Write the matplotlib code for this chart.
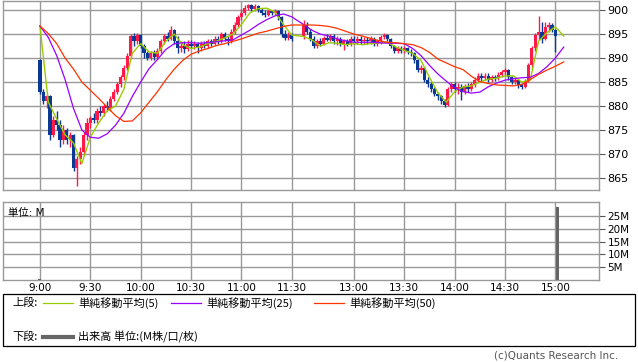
import numpy as np
import matplotlib
matplotlib.use("Agg")
import matplotlib.pyplot as plt
from matplotlib.lines import Line2D
from matplotlib.patches import Rectangle

plt.rcParams['font.family'] = ['DejaVu Sans', 'Noto Sans CJK JP']

# 2-minute candles, morning 9:00-11:30 and afternoon 12:30-15:00
am_open = [889.5, 883, 881, 882, 874, 877, 876, 873, 875, 873, 874, 867, 869, 870.5, 874, 876.5,
           877.5, 877, 879, 878.5, 880, 879.5, 881.5, 883, 884.5, 886, 888, 890.5, 894.5, 893.5,
           894.8, 892.5, 891, 890, 891, 890.2, 891.5, 893.5, 894.5, 894, 895.8, 893.5, 892, 892.5,
           891.8, 893, 892.5, 893, 892, 893, 892.5, 893.5, 893, 894, 893.5, 895, 894, 893.5, 895.5,
           897, 898.5, 899.5, 900.5, 901, 900.3, 900.8, 900, 899.5, 899, 899.8, 899.3, 899.8, 898.5,
           895, 894.2, 894.8]
am_high = [889.8, 883.5, 882.5, 882.3, 878, 879, 877, 876, 875.5, 874.5, 874.2, 869.5, 871.5, 874.5,
           877.5, 878, 878.5, 879.5, 880, 880.5, 881, 882, 883.5, 885, 886.5, 888.5, 891, 895, 895.2,
           895.2, 895, 893, 891.5, 891.5, 891.7, 892, 894, 895, 895.5, 896.7, 896, 894.5, 893.5, 893.5,
           893.7, 893.7, 893.5, 893.3, 893.5, 893.5, 894, 894, 894.5, 894.5, 895.4, 895.4, 894.5, 896,
           897.5, 899, 900.2, 901, 901.3, 901.3, 901.2, 901, 900.4, 900, 900.2, 900, 900.2, 900, 898.7,
           895.8, 895.5, 895.3]
am_low = [882.5, 880.5, 879.5, 873, 873.5, 875, 871.5, 872, 872, 871.5, 866.5, 863.3, 868, 870, 873,
          875.5, 876.5, 876.5, 878, 878, 879, 879, 881, 882.5, 884, 885.5, 887.5, 890, 892.5, 893, 892,
          890, 889.5, 889.5, 889.6, 889.8, 891, 893, 893.5, 893.8, 893, 891, 891.2, 891, 891.5, 892,
          891.8, 891, 891.5, 892, 892.2, 892.5, 892.8, 893, 893.2, 893.5, 892.8, 893.2, 895, 896.5, 898,
          899, 900, 899.8, 899.8, 899.6, 899, 898.5, 898.8, 899, 899, 898, 894.4, 893.7, 893.8, 893.5]
am_close = [883, 881, 882, 874, 877, 876, 873, 875, 873, 874, 867, 869, 870.5, 874, 876.5, 877.5,
            877, 879, 878.5, 880, 879.5, 881.5, 883, 884.5, 886, 888, 890.5, 894.5, 893.5, 894.8,
            892.5, 891, 890, 891, 890.2, 891.5, 893.5, 894.5, 894, 895.8, 893.5, 892, 892.5, 891.8,
            893, 892.5, 893, 892, 893, 892.5, 893.5, 893, 894, 893.5, 895, 894, 893.5, 895.5, 897,
            898.5, 899.5, 900.5, 901, 900.3, 900.8, 900, 899.5, 899, 899.8, 899.3, 899.8, 898.5, 895,
            894.2, 894.8, 894]

pm_open = [894.5, 897, 895.5, 894, 892.5, 893.5, 893, 894.2, 893.8, 894.5, 893.5, 894, 893, 893.5,
           893, 894, 893.5, 894, 893.5, 893.8, 893.5, 894, 893, 893.5, 894.3, 894.8, 894, 892.5, 891.5,
           892, 891.5, 892, 891.3, 891, 889.5, 887.5, 888, 885.5, 884.5, 883.5, 882.5, 882, 881, 880.3,
           883.5, 884.5, 883.5, 884, 883, 884, 883.5, 884.5, 885.5, 886.3, 885.8, 886.3, 885.5, 886,
           885.8, 886.5, 887, 887.5, 886, 885, 885.5, 884.3, 884, 885.2, 888.5, 892, 894.8, 895.5, 894,
           896.5, 897, 895.8]
pm_high = [897.9, 897.5, 896, 894.5, 894, 894.2, 894.6, 895, 895, 895, 894.5, 894.4, 894, 894, 894.5,
           894.5, 894.5, 894.5, 894.3, 894.3, 894.5, 894.3, 894, 894.8, 895.2, 895, 894.2, 892.8, 892.5,
           892.5, 892.5, 892.3, 891.8, 891.2, 889.8, 888.5, 888.2, 886, 885, 884, 883, 882.3, 881.5, 884,
           885, 885, 884.8, 884.5, 884.5, 884.8, 885, 886, 886.8, 886.8, 886.8, 886.8, 886.5, 886.5, 887,
           887.5, 888, 887.8, 886.3, 886, 885.7, 884.8, 885.7, 889, 892.5, 895.2, 898.7, 897.5, 897.5,
           897.5, 897.3, 896]
pm_low = [894, 895, 893.5, 892, 892.2, 892.5, 892.8, 893.5, 893.5, 893, 892.8, 892.5, 891.7, 892.5,
          892.5, 893, 893, 893, 893, 893, 893, 892.5, 892.5, 893, 894, 893.5, 892, 891, 891, 891, 891,
          890.8, 890.5, 889, 887, 886.8, 885, 884, 883, 882, 881.3, 880.5, 879.8, 880, 883, 883, 882.5,
          881.3, 882.5, 883, 883.2, 884, 885, 885.3, 885.5, 885, 885, 885.3, 885.5, 886, 886.5, 885.5,
          884.5, 884.5, 883.7, 883.5, 883.7, 885, 888, 891.5, 893.7, 893.1, 893.8, 895.5, 895.4, 891.2]
pm_close = [897, 895.5, 894, 892.5, 893.5, 893, 894.2, 893.8, 894.5, 893.5, 894, 893, 893.5, 893, 894,
            893.5, 894, 893.5, 893.8, 893.5, 894, 893, 893.5, 894.3, 894.8, 894, 892.5, 891.5, 892,
            891.5, 892, 891.3, 891, 889.5, 887.5, 888, 885.5, 884.5, 883.5, 882.5, 882, 881, 880.3,
            883.5, 884.5, 883.5, 884, 883, 884, 883.5, 884.5, 885.5, 886.3, 885.8, 886.3, 885.5, 886,
            885.8, 886.5, 887, 887.5, 886, 885, 885.5, 884.3, 884, 885.2, 888.5, 892, 894.8, 895.5, 894,
            896.5, 897, 895.8, 894.5]

# moving averages read every 5 minutes
ma5_am = [896.7, 880.8, 877.3, 874, 872.3, 868, 873.5, 876.5, 879, 880, 883.5, 891, 893, 891.3, 891,
          893.5, 895, 892.8, 892, 892.3, 893, 893.5, 894.2, 895, 897, 899.4, 900.3, 900.4, 899.6, 897,
          894.8]
ma5_pm = [894.5, 893.8, 892.5, 893.2, 893.1, 892.8, 893, 892.8, 893, 893.2, 893.3, 892.3, 891.6, 891,
          889.5, 886, 882.8, 880.8, 883, 884, 884.2, 885, 885.6, 885.8, 886.3, 886.3, 885, 885.4, 893.5,
          895.3, 896.5, 894.6]
ma25_am = [896.7, 894.3, 890.5, 885.5, 879.5, 875, 873.5, 873.3, 874.2, 876, 878.5, 882, 885, 887.8,
           889.7, 891.8, 893, 893.2, 893.2, 893.1, 893.2, 893.4, 893.6, 893.8, 894.8, 895.8, 897, 898,
           898.8, 899.2, 898.6]
ma25_pm = [897, 895.8, 895, 894.6, 894, 893.6, 893.3, 893.3, 893.3, 893.2, 893.1, 893.1, 893, 892,
           890.5, 888.5, 886.7, 885.2, 883.8, 883, 882.7, 882.9, 884, 884.8, 885.4, 885.7, 885.9, 886,
           886.8, 888.2, 890, 892.3]
ma50_am = [896.7, 895.1, 893, 890, 887.7, 885, 883.3, 881.6, 879.8, 878, 876.8, 876.9, 878.6, 880.8,
           883, 885.5, 887.7, 889.5, 890.8, 891.5, 892, 892.6, 893, 893.5, 894, 894.6, 895.2, 895.6,
           896.1, 896.6, 896.9]
ma50_pm = [896.9, 896.9, 896.8, 896.6, 896.2, 895.6, 895, 894.6, 894.1, 893.6, 893.3, 893.2, 893,
           892.8, 892.2, 891.2, 889.8, 889, 888.2, 887.6, 886.2, 885.1, 884.7, 884.4, 884.3, 884.2,
           884.5, 885.5, 886.6, 887.5, 888.3, 889.2]

vol_times = ['9:00', '15:01']
vol_values = [0.4, 28.5]

tick_labels = ['9:00', '9:30', '10:00', '10:30', '11:00', '11:30',
               '13:00', '13:30', '14:00', '14:30', '15:00']

UP = '#ff1a4a'
DOWN = '#0a3894'
GRID = '#999999'


def xpos(hhmm):
    h, m = map(int, hhmm.split(':'))
    mins = h * 60 + m
    if mins <= 12 * 60:
        return mins - 9 * 60
    return mins - (12 * 60 + 30) + 157


def fx(px):
    return px / 638


def fy(py):
    return 1 - py / 362


opens = np.array(am_open + pm_open)
highs = np.array(am_high + pm_high)
lows = np.array(am_low + pm_low)
closes = np.array(am_close + pm_close)
xs = np.concatenate([np.arange(0, 151, 2), 157 + np.arange(0, 151, 2)])
ma_x = np.concatenate([np.arange(0, 151, 5), 157 + np.arange(0, 156, 5)])

fig = plt.figure(figsize=(6.38, 3.62), dpi=100)
ax = fig.add_axes([fx(3), fy(190), fx(599) - fx(3), fy(1) - fy(190)])
axv = fig.add_axes([fx(3), fy(280), fx(599) - fx(3), fy(202) - fy(280)])

# candles
cols = np.where(closes >= opens, UP, DOWN)
ax.vlines(xs, lows, highs, colors=cols, lw=1.0, zorder=3)
body = np.maximum(np.abs(closes - opens), 0.25)
ax.bar(xs, body, bottom=np.minimum(opens, closes), width=1.9, color=cols,
       linewidth=0, zorder=3)

ax.plot(ma_x, ma5_am + ma5_pm, color='#99cc00', lw=1.0, zorder=4)
ax.plot(ma_x, ma25_am + ma25_pm, color='#9900ff', lw=0.9, zorder=4)
ax.plot(ma_x, ma50_am + ma50_pm, color='#ff3300', lw=0.9, zorder=4)

ticks = [xpos(t) for t in tick_labels]
for a in (ax, axv):
    a.set_xlim(-22, 333)
    a.set_xticks(ticks)
    a.grid(True, color=GRID, lw=1.0)
    a.set_axisbelow(True)
    for s in a.spines.values():
        s.set_color(GRID)
        s.set_linewidth(1.0)
    a.yaxis.tick_right()
    a.tick_params(axis='y', length=4, width=0.8, color='#555555', pad=2, labelsize=8)
    a.tick_params(axis='x', length=0)

ax.set_ylim(862.5, 901.9)
ax.set_yticks(np.arange(865, 901, 5))
ax.set_xticklabels([])

axv.bar([xpos(t) for t in vol_times], vol_values, width=1.8, color='#666666', zorder=3)
axv.set_ylim(0, 30.4)
axv.set_yticks([5, 10, 15, 20, 25])
axv.set_yticklabels(['5M', '10M', '15M', '20M', '25M'])
axv.tick_params(axis='y', labelsize=7.5)
axv.set_xticklabels(tick_labels, fontsize=7.5)
axv.tick_params(axis='x', pad=2)
axv.text(0.008, 0.93, '単位: M', transform=axv.transAxes, fontsize=7.5,
         ha='left', va='top', family=['DejaVu Sans', 'Noto Sans CJK JP'])

# legend box
fig.add_artist(Rectangle((fx(3), fy(346)), fx(635) - fx(3), fy(294) - fy(346),
                         transform=fig.transFigure, fill=False, ec='black', lw=0.9))
lt = dict(fontsize=8, va='center', ha='left', family=['Noto Sans CJK JP', 'DejaVu Sans'])
fig.text(fx(12), fy(303), '上段:', **lt)
fig.text(fx(12), fy(337), '下段:', **lt)
for x0, col, label in [(43, '#99cc00', '単純移動平均(5)'),
                       (171, '#9900ff', '単純移動平均(25)'),
                       (314, '#ff3300', '単純移動平均(50)')]:
    fig.add_artist(Line2D([fx(x0), fx(x0 + 30)], [fy(303), fy(303)], color=col, lw=0.9,
                          transform=fig.transFigure))
    fig.text(fx(x0 + 35), fy(303), label, **lt)
fig.add_artist(Line2D([fx(43), fx(73)], [fy(337), fy(337)], color='#666666', lw=3,
                      transform=fig.transFigure))
fig.text(fx(78), fy(337), '出来高 単位:(M株/口/枚)', **lt)

fig.text(fx(618), fy(356), '(c)Quants Research Inc.', fontsize=7.5, color='#555555',
         ha='right', va='center')

fig.savefig('out.png', dpi=100)
